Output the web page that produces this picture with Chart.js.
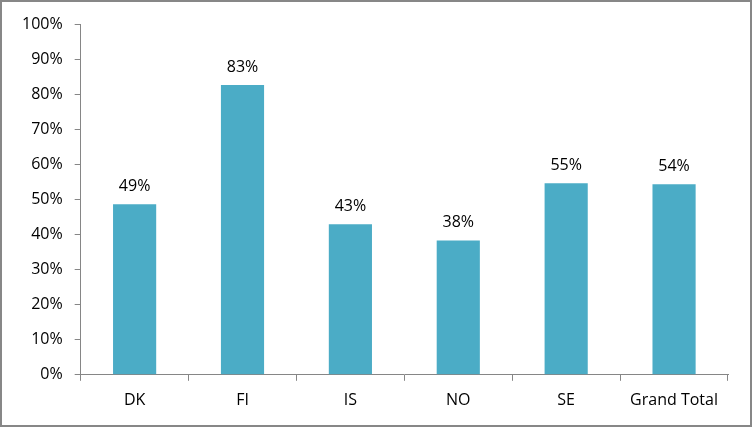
<!DOCTYPE html>
<html>
<head>
<meta charset="utf-8">
<script src="https://cdn.jsdelivr.net/npm/chart.js@4/dist/chart.umd.min.js"></script>
<style>
    html, body { margin: 0; padding: 0; background: #fff; }
    .frame { width: 752px; height: 427px; box-sizing: border-box; border: 2px solid #878787; position: relative; }
    .frame canvas { position: absolute; left: -2px; top: -2px; }
</style>
</head>
<body>
<div class="frame"><canvas id="bar-chart" width="752" height="427"></canvas></div>
<script>
    "use strict";

    // Data
    var categories = ["DK", "FI", "IS", "NO", "SE", "Grand Total"];
    var shares = [48.6, 82.6, 42.9, 38.3, 54.6, 54.3];
    var yTicks = [0, 10, 20, 30, 40, 50, 60, 70, 80, 90, 100];

    var fontFamily = "'Open Sans', 'Liberation Sans', sans-serif";
    var axisGray = "#868686";

    // Value labels above bars
    var valueLabels = {
        id: "valueLabels",
        afterDatasetsDraw: function (chart) {
            var ctx = chart.ctx;
            var meta = chart.getDatasetMeta(0);
            ctx.save();
            ctx.font = "16px " + fontFamily;
            ctx.fillStyle = "#000";
            ctx.textAlign = "center";
            ctx.textBaseline = "bottom";
            meta.data.forEach(function (bar, i) {
                ctx.fillText(Math.round(shares[i]) + "%", bar.x, bar.y - 10);
            });
            ctx.restore();
        }
    };

    var ctx = document.getElementById("bar-chart").getContext("2d");
    var myChart = new Chart(ctx, {
        type: "bar",
        data: {
            labels: categories,
            datasets: [{
                data: shares,
                backgroundColor: "#4BACC6",
                categoryPercentage: 0.4,
                barPercentage: 1.0
            }]
        },
        options: {
            responsive: false,
            animation: false,
            layout: { padding: { left: 10, right: 24, top: 24, bottom: 7 } },
            plugins: {
                legend: { display: false },
                tooltip: { enabled: false }
            },
            scales: {
                x: {
                    grid: {
                        offset: true,
                        drawOnChartArea: false,
                        drawTicks: true,
                        tickLength: 6,
                        color: axisGray
                    },
                    border: { color: axisGray, width: 1 },
                    ticks: {
                        color: "#000",
                        padding: 10,
                        font: { family: fontFamily, size: 16 }
                    }
                },
                y: {
                    min: 0,
                    max: 100,
                    afterBuildTicks: function (axis) {
                        axis.ticks = yTicks.map(function (v) { return { value: v }; });
                    },
                    grid: {
                        drawOnChartArea: false,
                        drawTicks: true,
                        tickLength: 6,
                        color: axisGray
                    },
                    border: { color: axisGray, width: 1 },
                    ticks: {
                        color: "#000",
                        padding: 12,
                        font: { family: fontFamily, size: 16 },
                        callback: function (v) { return v + "%"; }
                    }
                }
            }
        },
        plugins: [valueLabels]
    });
</script>
</body>
</html>
